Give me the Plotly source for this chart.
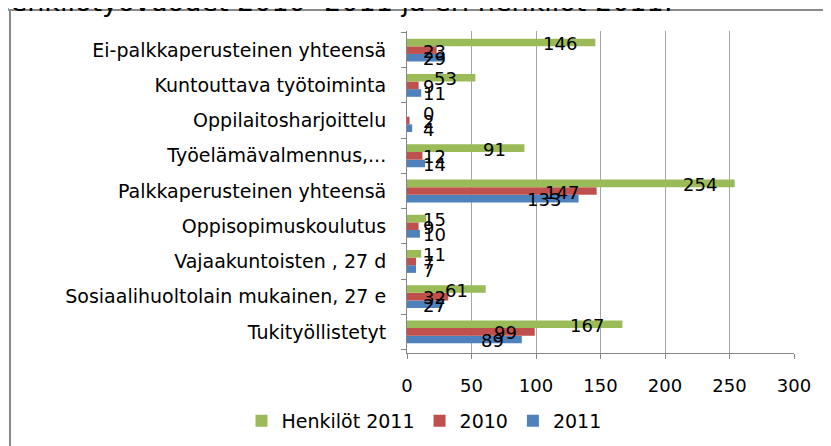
import plotly.graph_objects as go

# ---- data (bottom to top as drawn) ----
categories = [
    "Tukityöllistetyt",
    "Sosiaalihuoltolain mukainen, 27 e",
    "Vajaakuntoisten , 27 d",
    "Oppisopimuskoulutus",
    "Palkkaperusteinen yhteensä",
    "Työelämävalmennus,...",
    "Oppilaitosharjoittelu",
    "Kuntouttava työtoiminta",
    "Ei-palkkaperusteinen yhteensä",
]
values_2011 = [89, 27, 7, 10, 133, 14, 4, 11, 29]
values_2010 = [99, 32, 7, 9, 147, 12, 2, 9, 23]
henkilot_2011 = [167, 61, 11, 15, 254, 91, 0, 53, 146]
x_ticks = [0, 50, 100, 150, 200, 250, 300]

title_text = "Tukityöllistettyjen henkilötyövuodet 2010 -2011 ja eri henkilöt 2011:"

series = [
    ("2011", values_2011, "#4F81BD"),
    ("2010", values_2010, "#C0504D"),
    ("Henkilöt 2011", henkilot_2011, "#9BBB59"),
]

FONT = "DejaVu Sans"
W, H = 831, 446
OFF = 8  # page body margin: figure is drawn at (8, 8) in the window
# plot area in window pixels
PL, PR, PT, PB = 407, 794, 31, 353
ML, MT = PL - OFF, PT - OFF
MR, MB = W - (PR - OFF), H - (PB - OFF)
PW = W - ML - MR
PH = H - MT - MB
XMAX = 300
BARGAP = 0.35
px_per_unit = PW / XMAX


def px_x(wx):
    return (wx - PL) / PW


def px_y(wy):
    return 1 + (PT - wy) / PH


fig = go.Figure()
for name, vals, col in series:
    fig.add_trace(go.Bar(
        y=categories, x=vals, name=name, orientation="h",
        marker=dict(color=col, line=dict(width=0)),
    ))

# data labels (Excel style: near the inner end of the bar)
annotations = []
group_w = 1 - BARGAP
digit_w = 11.4
for k, (name, vals, col) in enumerate(series):
    off = (k - 1) * group_w / 3
    for i, v in enumerate(vals):
        txt = str(v)
        tw = len(txt) * digit_w
        right_px = v * px_per_unit - 16
        if right_px - tw < 14.5:
            annotations.append(dict(x=0, y=i + off, xref="x", yref="y", text=txt,
                                    showarrow=False, xanchor="left", xshift=14,
                                    yshift=-1, font=dict(family=FONT, size=18, color="#000")))
        else:
            annotations.append(dict(x=v, y=i + off, xref="x", yref="y", text=txt,
                                    showarrow=False, xanchor="right", xshift=-16,
                                    yshift=-1, font=dict(family=FONT, size=18, color="#000")))

# partially visible title at top
annotations.append(dict(
    x=px_x(675), y=px_y(19), xref="paper", yref="paper",
    text=title_text, showarrow=False, xanchor="right", yanchor="bottom",
    font=dict(family=FONT, size=27, color="#000"),
))

fig.update_layout(
    width=W, height=H,
    margin=dict(l=ML, r=MR, t=MT, b=MB, pad=0),
    paper_bgcolor="white", plot_bgcolor="white",
    barmode="group", bargap=BARGAP, bargroupgap=0,
    font=dict(family=FONT, size=18, color="#000"),
    showlegend=True,
    legend=dict(orientation="h", x=px_x(424), y=px_y(421),
                xanchor="center", yanchor="middle", traceorder="reversed",
                font=dict(family=FONT, size=19, color="#000"),
                itemwidth=30, bgcolor="rgba(0,0,0,0)"),
    xaxis=dict(range=[0, XMAX], tickvals=x_ticks, ticktext=[str(t) for t in x_ticks],
               showgrid=True, gridcolor="#A6A6A6", gridwidth=1,
               showline=True, linecolor="#868686", linewidth=1,
               ticks="outside", ticklen=5, tickcolor="#868686",
               zeroline=False, ticklabelstandoff=11,
               tickfont=dict(family=FONT, size=18, color="#000")),
    yaxis=dict(type="category", categoryorder="array", categoryarray=categories,
               showline=True, linecolor="#868686", linewidth=1,
               ticks="outside", ticklen=5, tickcolor="#868686",
               tickson="boundaries", showgrid=False, ticklabelstandoff=16,
               tickfont=dict(family=FONT, size=19, color="#000")),
    annotations=annotations,
    shapes=[dict(type="rect", xref="paper", yref="paper",
                 x0=px_x(10), x1=3, y0=-3, y1=px_y(10),
                 line=dict(color="#8A8A8A", width=2), fillcolor="rgba(0,0,0,0)",
                 layer="below")],
)

fig.write_html("out.html")
